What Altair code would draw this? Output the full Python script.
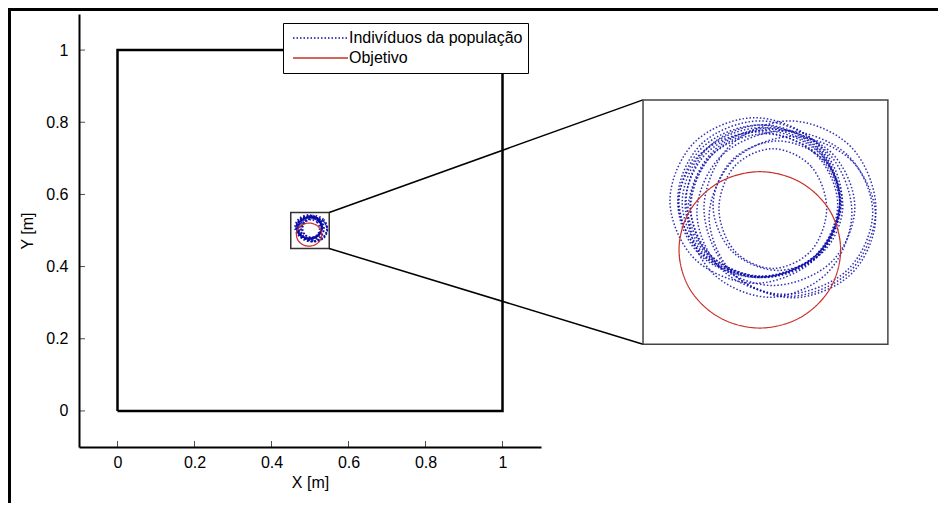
import altair as alt
import pandas as pd

# ---------------- data ----------------
TICKS = [0, 0.2, 0.4, 0.6, 0.8, 1]
AXIS_MIN = -0.1
AXIS_MAX = 1.1

SQUARE_X = [0, 1, 1, 0, 0]
SQUARE_Y = [0, 0, 1, 1, 0]

ZOOM_X = [0.45, 0.55]
ZOOM_Y = [0.45, 0.55]

# where the zoomed view is drawn (in main-axes units)
INSET_X = [1.365, 2.001]
INSET_Y = [0.185, 0.862]

SERIES = ["Indivíduos da população", "Objetivo"]
BLUE = "#0a0aa8"
RED = "#c8302a"

OBJ_X = [0.5307, 0.5263, 0.5142, 0.4977, 0.4812, 0.4691, 0.4647, 0.4691, 0.4812, 0.4977, 0.5142, 0.5263]
OBJ_Y = [0.4886, 0.5046, 0.5163, 0.5206, 0.5163, 0.5046, 0.4886, 0.4726, 0.4609, 0.4566, 0.4609, 0.4726]

LOOPS_X = [
    [0.5304, 0.5210, 0.4982, 0.4754, 0.4660, 0.4754, 0.4982, 0.5210],
    [0.5304, 0.5212, 0.4990, 0.4768, 0.4676, 0.4768, 0.4990, 0.5212],
    [0.5295, 0.5200, 0.4969, 0.4738, 0.4643, 0.4738, 0.4969, 0.5200],
    [0.5304, 0.5214, 0.4998, 0.4782, 0.4692, 0.4782, 0.4998, 0.5214],
    [0.5312, 0.5214, 0.4977, 0.4740, 0.4642, 0.4740, 0.4977, 0.5214],
    [0.5438, 0.5333, 0.5079, 0.4825, 0.4720, 0.4825, 0.5079, 0.5333],
    [0.5451, 0.5348, 0.5100, 0.4852, 0.4749, 0.4852, 0.5100, 0.5348],
    [0.5353, 0.5255, 0.5018, 0.4781, 0.4683, 0.4781, 0.5018, 0.5255],
    [0.5304, 0.5202, 0.4957, 0.4712, 0.4610, 0.4712, 0.4957, 0.5202],
    [0.5250, 0.5186, 0.5030, 0.4874, 0.4810, 0.4874, 0.5030, 0.5186],
    [0.5316, 0.5238, 0.5051, 0.4864, 0.4786, 0.4864, 0.5051, 0.5238],
    [0.5365, 0.5267, 0.5030, 0.4793, 0.4695, 0.4793, 0.5030, 0.5267],
    [0.5308, 0.5215, 0.4990, 0.4765, 0.4672, 0.4765, 0.4990, 0.5215],
    [0.5303, 0.5207, 0.4975, 0.4743, 0.4647, 0.4743, 0.4975, 0.5207],
    [0.5450, 0.5350, 0.5110, 0.4870, 0.4770, 0.4870, 0.5110, 0.5350],
]
LOOPS_Y = [
    [0.5080, 0.5296, 0.5386, 0.5296, 0.5080, 0.4864, 0.4774, 0.4864],
    [0.5088, 0.5307, 0.5398, 0.5307, 0.5088, 0.4869, 0.4778, 0.4869],
    [0.5071, 0.5282, 0.5369, 0.5282, 0.5071, 0.4860, 0.4773, 0.4860],
    [0.5067, 0.5275, 0.5361, 0.5275, 0.5067, 0.4859, 0.4773, 0.4859],
    [0.5096, 0.5321, 0.5414, 0.5321, 0.5096, 0.4871, 0.4778, 0.4871],
    [0.5039, 0.5276, 0.5374, 0.5276, 0.5039, 0.4802, 0.4704, 0.4802],
    [0.5055, 0.5309, 0.5414, 0.5309, 0.5055, 0.4801, 0.4696, 0.4801],
    [0.5039, 0.5284, 0.5386, 0.5284, 0.5039, 0.4794, 0.4692, 0.4794],
    [0.5088, 0.5328, 0.5427, 0.5328, 0.5088, 0.4848, 0.4749, 0.4848],
    [0.5055, 0.5228, 0.5300, 0.5228, 0.5055, 0.4882, 0.4810, 0.4882],
    [0.5067, 0.5254, 0.5332, 0.5254, 0.5067, 0.4880, 0.4802, 0.4880],
    [0.5060, 0.5286, 0.5380, 0.5286, 0.5060, 0.4834, 0.4740, 0.4834],
    [0.5075, 0.5287, 0.5375, 0.5287, 0.5075, 0.4863, 0.4775, 0.4863],
    [0.5085, 0.5306, 0.5397, 0.5306, 0.5085, 0.4864, 0.4773, 0.4864],
    [0.5020, 0.5253, 0.5350, 0.5253, 0.5020, 0.4787, 0.4690, 0.4787],
]

# ---------------- tables ----------------
rows = []
for k, (xs, ys) in enumerate(zip(LOOPS_X, LOOPS_Y)):
    for i, (x, y) in enumerate(zip(xs, ys)):
        rows.append({"loop": f"p{k}", "i": i, "x": x, "y": y, "serie": SERIES[0]})
pop = pd.DataFrame(rows)
obj = pd.DataFrame({"loop": "obj", "i": range(len(OBJ_X)), "x": OBJ_X, "y": OBJ_Y, "serie": SERIES[1]})


def to_inset(df):
    d = df.copy()
    d["x"] = INSET_X[0] + (d["x"] - ZOOM_X[0]) / (ZOOM_X[1] - ZOOM_X[0]) * (INSET_X[1] - INSET_X[0])
    d["y"] = INSET_Y[0] + (d["y"] - ZOOM_Y[0]) / (ZOOM_Y[1] - ZOOM_Y[0]) * (INSET_Y[1] - INSET_Y[0])
    return d


pop_in = to_inset(pop)
obj_in = to_inset(obj)

square = pd.DataFrame({"x": SQUARE_X, "y": SQUARE_Y, "i": range(len(SQUARE_X))})
zoombox = pd.DataFrame({"x": [ZOOM_X[0]], "x2": [ZOOM_X[1]], "y": [ZOOM_Y[0]], "y2": [ZOOM_Y[1]]})
insetbox = pd.DataFrame({"x": [INSET_X[0]], "x2": [INSET_X[1]], "y": [INSET_Y[0]], "y2": [INSET_Y[1]]})
connectors = pd.DataFrame({
    "x": [ZOOM_X[1], ZOOM_X[1]], "y": [ZOOM_Y[1], ZOOM_Y[0]],
    "x2": [INSET_X[0], INSET_X[0]], "y2": [INSET_Y[1], INSET_Y[0]],
})
ticks = pd.DataFrame({"t": TICKS, "base": [AXIS_MIN] * len(TICKS)})

# ---------------- encodings ----------------
FONT = "Liberation Sans"
xscale = alt.Scale(domain=[AXIS_MIN, AXIS_MAX], nice=False, zero=False)
yscale = alt.Scale(domain=[AXIS_MIN, AXIS_MAX], nice=False, zero=False)
X = alt.X("x:Q", scale=xscale, axis=alt.Axis(values=TICKS, format="~g", title="X [m]",
                                            labelPadding=7, titlePadding=4))
Y = alt.Y("y:Q", scale=yscale, axis=alt.Axis(values=TICKS, format="~g", title="Y [m]",
                                            labelPadding=11, titlePadding=10))

legend = alt.Legend(title=None, orient="none", legendX=204, legendY=9, direction="vertical",
                    strokeColor="black", fillColor="white", padding=5, clipHeight=20,
                    symbolType="stroke", symbolSize=3025, symbolStrokeWidth=1.4, symbolOffset=4,
                    symbolOpacity=1, labelFontSize=16, labelFont=FONT, labelColor="black",
                    labelLimit=400, labelOffset=0, rowPadding=0, zindex=1)
color = alt.Color("serie:N", scale=alt.Scale(domain=SERIES, range=[BLUE, RED]), legend=legend)
dash = alt.StrokeDash("serie:N", scale=alt.Scale(domain=SERIES, range=[[1.5, 2], [1, 0]]), legend=legend)

sq = alt.Chart(square).mark_line(color="black", strokeWidth=2.5).encode(x=X, y=Y, order="i:Q")
zb = alt.Chart(zoombox).mark_rect(fill=None, stroke="#333333", strokeWidth=1.5).encode(
    x="x:Q", x2="x2:Q", y="y:Q", y2="y2:Q")
ib = alt.Chart(insetbox).mark_rect(fill="white", stroke="#444444", strokeWidth=1.5).encode(
    x="x:Q", x2="x2:Q", y="y:Q", y2="y2:Q")
cn = alt.Chart(connectors).mark_rule(color="black", strokeWidth=1.5).encode(
    x="x:Q", x2="x2:Q", y="y:Q", y2="y2:Q")


def loops(df, width, op):
    return alt.Chart(df).mark_line(interpolate="cardinal-closed", strokeWidth=width, opacity=op).encode(
        x="x:Q", y="y:Q", color=color, strokeDash=dash, detail="loop:N", order="i:Q")


main_pop = loops(pop, 1.8, 0.9)
main_obj = loops(obj, 1.2, 1)
in_pop = loops(pop_in, 1.5, 0.85)
in_obj = loops(obj_in, 1.2, 1)

xt = alt.Chart(ticks).mark_tick(orient="vertical", size=6, thickness=1, yOffset=-3, color="black").encode(
    x="t:Q", y="base:Q")
yt = alt.Chart(ticks).mark_tick(orient="horizontal", size=6, thickness=1, xOffset=3, color="black").encode(
    x="base:Q", y="t:Q")

frame_top = alt.Chart(ticks).mark_rule(color="black", strokeWidth=3).encode(
    x=alt.value(-71), x2=alt.value(867), y=alt.value(-4.5))
frame_left = alt.Chart(ticks).mark_rule(color="black", strokeWidth=3).encode(
    x=alt.value(-69.5), y=alt.value(-6), y2=alt.value(497))

chart = alt.layer(sq, zb, cn, ib, main_pop, main_obj, in_pop, in_obj, xt, yt, frame_top, frame_left).properties(
    width=462, height=433, background="white",
    padding={"left": 71, "top": 6, "right": 397, "bottom": 56},
    autosize=alt.AutoSizeParams(type="none"),
).configure_view(stroke=None).configure_axis(
    grid=False, ticks=False, tickSize=0, domainColor="black", domainWidth=2,
    labelFont=FONT, labelFontSize=16, labelColor="black",
    titleFont=FONT, titleFontSize=16, titleFontWeight="normal", titleColor="black",
)

chart.save("out.html", embed_options={"renderer": "svg", "actions": False})
